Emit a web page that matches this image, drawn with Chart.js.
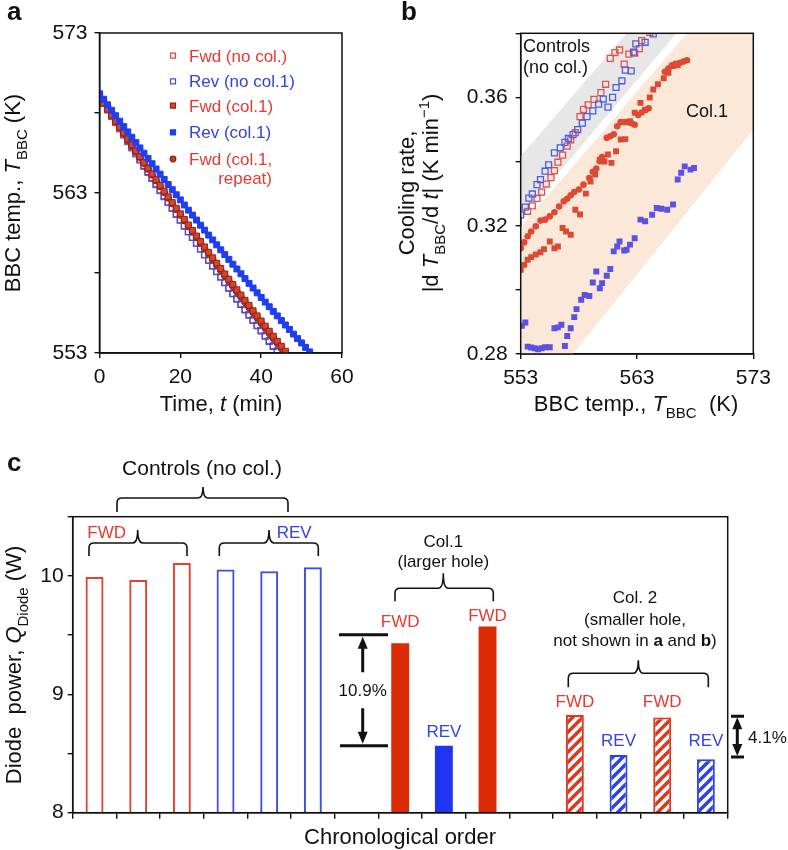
<!DOCTYPE html>
<html>
<head>
<meta charset="utf-8">
<script src="https://cdn.jsdelivr.net/npm/chart.js@4.4.1/dist/chart.umd.min.js"></script>
<style>
  body { margin: 0; background: #fff; }
  #wrap { position: relative; width: 788px; height: 850px; overflow: hidden; }
  canvas { position: absolute; left: 0; top: 0; }
</style>
</head>
<body>
<div id="wrap">
  <canvas id="chartA" width="788" height="850"></canvas>
  <canvas id="chartB" width="788" height="850"></canvas>
  <canvas id="chartC" width="788" height="850"></canvas>
</div>
<script>
// ---------- panel a : BBC temperature vs time ----------
const timeMin = [0,1,2,3,4,5,6,7,8,9,10,11,12,13,14,15,16,17,18,19,20,21,22,23,24,25,26,27,28,29,30,31,32,33,34,35,36,37,38,39,40,41,42,43,44,45,46,47,48,49,50,51,52];
const tempFwdNoCol = [569.00,568.60,568.19,567.79,567.40,567.00,566.61,566.21,565.82,565.44,565.05,564.67,564.29,563.91,563.53,563.15,562.78,562.41,562.04,561.67,561.30,560.94,560.58,560.22,559.86,559.51,559.15,558.80,558.45,558.10,557.76,557.41,557.07,556.73,556.40,556.06,555.73,555.40,555.07,554.74,554.42,554.09,553.77,553.45,553.14];
const tempRevNoCol = [569.10,568.69,568.28,567.88,567.48,567.07,566.68,566.28,565.89,565.50,565.11,564.72,564.33,563.95,563.57,563.19,562.81,562.43,562.06,561.69,561.32,560.95,560.59,560.23,559.86,559.51,559.15,558.80,558.44,558.09,557.75,557.40,557.06,556.71,556.37,556.04,555.70,555.37,555.04,554.71,554.38,554.06,553.73,553.41,553.09];
const tempFwdCol1 = [569.00,568.62,568.24,567.87,567.49,567.12,566.75,566.38,566.01,565.64,565.28,564.91,564.55,564.19,563.83,563.47,563.11,562.76,562.40,562.05,561.70,561.35,561.00,560.66,560.31,559.97,559.63,559.29,558.95,558.61,558.28,557.94,557.61,557.28,556.95,556.62,556.29,555.97,555.64,555.32,555.00,554.68,554.36,554.05,553.73,553.42,553.11];
const tempRevCol1 = [569.20,568.86,568.51,568.17,567.83,567.49,567.15,566.82,566.48,566.15,565.82,565.49,565.16,564.83,564.50,564.18,563.85,563.53,563.21,562.89,562.57,562.25,561.93,561.62,561.31,560.99,560.68,560.37,560.07,559.76,559.45,559.15,558.85,558.55,558.25,557.95,557.65,557.35,557.06,556.76,556.47,556.18,555.89,555.60,555.32,555.03,554.75,554.47,554.18,553.90,553.63,553.35,553.07];
const tempFwdCol1Rep = [569.00,568.62,568.23,567.85,567.47,567.10,566.72,566.34,565.97,565.60,565.23,564.86,564.50,564.13,563.77,563.41,563.04,562.69,562.33,561.97,561.62,561.27,560.92,560.57,560.22,559.88,559.53,559.19,558.85,558.51,558.17,557.83,557.50,557.17,556.83,556.51,556.18,555.85,555.53,555.20,554.88,554.56,554.24,553.92,553.61,553.30];

// ---------- panel b : cooling rate vs BBC temperature ----------
const ctrlFwdT    = [553.6,554.0,554.4,554.8,555.2,555.6,555.9,556.2,556.6,557.0,557.3,557.7,558.1,558.4,558.8,559.3,559.9,560.3,560.7,561.1,561.5,561.9,562.3,562.8,563.2,563.4,564.1];
const ctrlFwdRate = [0.3245,0.3262,0.3285,0.3305,0.3330,0.3350,0.3372,0.3398,0.3420,0.3448,0.3468,0.3490,0.3540,0.3563,0.3577,0.3594,0.3615,0.3641,0.3722,0.3740,0.3748,0.3704,0.3735,0.3738,0.3752,0.3777,0.3803];
const ctrlRevT    = [553.0,553.4,553.7,554.0,554.4,554.7,555.1,555.4,555.9,556.4,556.8,557.1,557.5,557.9,558.3,558.7,559.2,559.7,560.1,560.5,560.9,561.2,561.7,562.0,562.5,562.7,562.9,563.7,564.4];
const ctrlRevRate = [0.3234,0.3258,0.3286,0.3299,0.3328,0.3344,0.3370,0.3390,0.3427,0.3443,0.3460,0.3472,0.3484,0.3500,0.3520,0.3540,0.3558,0.3579,0.3595,0.3570,0.3600,0.3631,0.3652,0.3685,0.3683,0.3741,0.3767,0.3772,0.3798];
const col1FwdT    = [553.0,553.3,553.6,553.9,554.3,554.7,555.0,555.5,555.9,556.2,556.6,556.9,557.3,557.7,558.1,558.6,559.0,559.4,559.8,560.2,560.5,560.8,561.2,561.6,562.0,562.4,562.8,563.3,563.7,564.1,564.4,564.8,565.3,565.7,566.1,566.5];
const col1FwdRate = [0.3063,0.3078,0.3094,0.3102,0.3110,0.3117,0.3127,0.3151,0.3130,0.3135,0.3193,0.3182,0.3172,0.3250,0.3235,0.3300,0.3338,0.3360,0.3406,0.3400,0.3422,0.3396,0.3432,0.3469,0.3470,0.3526,0.3552,0.3583,0.3562,0.3600,0.3625,0.3641,0.3660,0.3677,0.3698,0.3700];
const col1RevT    = [553.1,553.4,553.6,553.9,554.2,554.5,554.8,555.1,555.5,555.9,556.2,556.5,556.8,557.0,557.3,557.6,557.8,558.2,558.5,558.9,559.2,559.5,559.8,560.0,560.4,560.7,561.0,561.3,561.5,561.9,562.1,562.4,562.8,563.3,563.7,564.3,564.7,565.1,565.6,566.1,566.5,566.8,567.1,567.6,567.9];
const col1RevRate = [0.2888,0.2898,0.2823,0.2820,0.2818,0.2815,0.2818,0.2821,0.2821,0.2880,0.2883,0.2891,0.2825,0.2856,0.2880,0.2915,0.2940,0.2969,0.2984,0.2981,0.3023,0.3057,0.3005,0.3021,0.3044,0.3065,0.3120,0.3135,0.3151,0.3123,0.3125,0.3141,0.3161,0.3219,0.3214,0.3234,0.3255,0.3253,0.3250,0.3266,0.3344,0.3365,0.3385,0.3375,0.3380];
const col1RepT    = [553.0,553.3,553.6,553.9,554.3,554.7,555.1,555.5,555.9,556.3,556.7,557.0,557.3,557.6,558.0,558.4,558.9,559.2,559.5,559.8,560.0,560.4,560.7,561.0,561.3,561.6,561.9,562.2,562.5,562.8,563.1,563.4,563.7,564.0,565.4,565.7,566.0,566.3,566.7,567.0,567.3];
const col1RepRate = [0.3130,0.3148,0.3167,0.3182,0.3198,0.3216,0.3219,0.3229,0.3242,0.3260,0.3276,0.3284,0.3295,0.3305,0.3313,0.3328,0.3349,0.3368,0.3378,0.3401,0.3414,0.3474,0.3479,0.3485,0.3510,0.3523,0.3523,0.3523,0.3520,0.3515,0.3545,0.3553,0.3560,0.3566,0.3680,0.3690,0.3700,0.3705,0.3708,0.3712,0.3716];
// shaded guide bands (polygon corners, data units)
const bandCtrlT    = [553, 562.1, 566.4, 553];
const bandCtrlRate = [0.3417, 0.38, 0.38, 0.3225];
const bandCol1T    = [553, 557.5, 573, 573, 567.3, 553];
const bandCol1Rate = [0.28, 0.28, 0.35, 0.38, 0.38, 0.3195];

// ---------- panel c : diode power, chronological order ----------
const runLabels = ['FWD','FWD','FWD','REV','REV','REV','','FWD','REV','FWD','','FWD','REV','FWD','REV'];
const powerW    = [9.99, 9.965, 10.108, 10.054, 10.04, 10.074, null, 9.432, 8.566, 9.572, null, 8.826, 8.488, 8.803, 8.451];
const runStyle  = ['open','open','open','open','open','open','','solid','solid','solid','','hatch','hatch','hatch','hatch'];

const FONT = '"Liberation Sans", Arial, Helvetica, sans-serif';
const RED = '#e63a2e', BLUE = '#2f44e0';

function pts(xs, ys) { return xs.map((x, i) => ({ x: x, y: ys[i] })); }

function fontOf(p, size) {
  const s = (p.sub || p.sup) ? Math.round(size * 0.68) : size;
  return (p.i ? 'italic ' : '') + (p.b ? 'bold ' : '') + s + 'px ' + FONT;
}
// rich text: parts = [{t, i, b, sub, sup, c}], (x,y) = baseline anchor
function drawRich(ctx, parts, x, y, size, opts) {
  opts = opts || {};
  parts = parts.map(p => typeof p === 'string' ? { t: p } : p);
  ctx.save();
  ctx.translate(x, y);
  if (opts.rotate) ctx.rotate(-Math.PI / 2);
  let w = 0;
  parts.forEach(p => { ctx.font = fontOf(p, size); w += ctx.measureText(p.t).width; });
  let cx = opts.align === 'left' ? 0 : opts.align === 'right' ? -w : -w / 2;
  ctx.textAlign = 'left';
  ctx.textBaseline = 'alphabetic';
  parts.forEach(p => {
    ctx.font = fontOf(p, size);
    ctx.fillStyle = p.c || opts.color || '#111';
    const dy = p.sub ? size * 0.3 : p.sup ? -size * 0.42 : 0;
    ctx.fillText(p.t, cx, dy);
    cx += ctx.measureText(p.t).width;
  });
  ctx.restore();
}

function brace(ctx, x1, x2, y, tip, leg, xm) {
  const r = 5;
  ctx.beginPath();
  ctx.moveTo(x1, y + leg);
  ctx.lineTo(x1, y + r);
  ctx.quadraticCurveTo(x1, y, x1 + r, y);
  ctx.lineTo(xm - r, y);
  ctx.quadraticCurveTo(xm, y, xm, y - tip);
  ctx.quadraticCurveTo(xm, y, xm + r, y);
  ctx.lineTo(x2 - r, y);
  ctx.quadraticCurveTo(x2, y, x2, y + r);
  ctx.lineTo(x2, y + leg);
  ctx.stroke();
}

function arrowHead(ctx, x, y, dir) { // dir -1 = points up, +1 = points down
  ctx.beginPath();
  ctx.moveTo(x, y);
  ctx.lineTo(x - 5, y - dir * 12);
  ctx.lineTo(x + 5, y - dir * 12);
  ctx.closePath();
  ctx.fill();
}

function hatch(color) {
  const c = document.createElement('canvas');
  c.width = 10; c.height = 10;
  const g = c.getContext('2d');
  g.fillStyle = '#fff';
  g.fillRect(0, 0, 10, 10);
  g.strokeStyle = color;
  g.lineWidth = 3.4;
  g.beginPath();
  g.moveTo(-2, 12); g.lineTo(12, -2);
  g.moveTo(-2, 2); g.lineTo(2, -2);
  g.moveTo(8, 12); g.lineTo(12, 8);
  g.stroke();
  return g.createPattern(c, 'repeat');
}

// axis helpers
function fixWidth(w) {
  return scale => { scale.width = w; scale.paddingTop = 0; scale.paddingBottom = 0; };
}
function fixHeight(h) {
  return scale => { scale.height = h; scale.paddingLeft = 0; scale.paddingRight = 0; };
}
const tickFont = { family: FONT, size: 21 };
const axisGrid = { drawOnChartArea: false, drawTicks: true, tickLength: 5, color: '#111', lineWidth: 1.4 };
const axisBorder = { display: true, color: '#111', width: 1.5 };

const frame = {
  id: 'frame',
  afterDatasetsDraw(chart) {
    const a = chart.chartArea, ctx = chart.ctx;
    ctx.save();
    ctx.strokeStyle = '#111';
    ctx.lineWidth = 1.5;
    ctx.strokeRect(a.left, a.top, a.right - a.left, a.bottom - a.top);
    ctx.restore();
  }
};

const baseOpts = {
  responsive: false,
  animation: false,
  devicePixelRatio: 1,
  events: [],
  plugins: { legend: { display: false }, tooltip: { enabled: false } }
};

// ===== panel a =====
const legendA = [
  { label: 'Fwd (no col.)', color: RED,  shape: 'rect', fill: '#fff',    stroke: '#e8443a' },
  { label: 'Rev (no col.1)', color: BLUE, shape: 'rect', fill: '#fff',   stroke: '#3d50e6' },
  { label: 'Fwd (col.1)',  color: RED,  shape: 'rect', fill: '#d8432c', stroke: '#8f2414' },
  { label: 'Rev (col.1)',  color: BLUE, shape: 'rect', fill: '#1f3ef2', stroke: '#1f3ef2' },
  { label: 'Fwd (col.1,',  color: RED,  shape: 'circle', fill: '#cf3a24', stroke: '#7f2414' }
];

new Chart(document.getElementById('chartA'), {
  type: 'scatter',
  data: {
    datasets: [
      { data: pts(timeMin, tempFwdNoCol), pointStyle: 'rect', pointRadius: 4.2, backgroundColor: 'rgba(255,255,255,0)', borderColor: '#e8443a', borderWidth: 1.3, order: 5 },
      { data: pts(timeMin, tempRevNoCol), pointStyle: 'rect', pointRadius: 4.2, backgroundColor: 'rgba(255,255,255,0)', borderColor: '#3d50e6', borderWidth: 1.3, order: 4 },
      { data: pts(timeMin, tempFwdCol1Rep), pointStyle: 'circle', pointRadius: 3.3, backgroundColor: '#cf3a24', borderColor: '#7f2414', borderWidth: 1, order: 3 },
      { data: pts(timeMin, tempFwdCol1), pointStyle: 'rect', pointRadius: 4.2, backgroundColor: '#d8432c', borderColor: '#8f2414', borderWidth: 1, order: 2 },
      { data: pts(timeMin, tempRevCol1), pointStyle: 'rect', pointRadius: 4.2, backgroundColor: '#1f3ef2', borderColor: '#1f3ef2', borderWidth: 1, order: 1 }
    ]
  },
  options: Object.assign({}, baseOpts, {
    layout: { padding: { left: 0, top: 33, right: 446, bottom: 430 } },
    scales: {
      x: {
        type: 'linear', min: 0, max: 60,
        ticks: { stepSize: 20, font: tickFont, color: '#111', padding: 7, maxRotation: 0 },
        grid: axisGrid, border: axisBorder,
        afterFit: fixHeight(67)
      },
      y: {
        type: 'linear', min: 553, max: 573,
        ticks: { stepSize: 5, font: tickFont, color: '#111', padding: 7,
          callback: v => ((v - 553) % 10 === 0 ? v : '') },
        grid: axisGrid, border: axisBorder,
        afterFit: fixWidth(99.5)
      }
    }
  }),
  plugins: [frame, {
    id: 'textA',
    afterDraw(chart) {
      const ctx = chart.ctx;
      const rows = [61.7, 87.3, 111.7, 138.3, 165];
      legendA.forEach((e, i) => {
        const y = rows[i] - 6;
        ctx.save();
        ctx.fillStyle = e.fill;
        ctx.strokeStyle = e.stroke;
        ctx.lineWidth = 1.2;
        ctx.beginPath();
        if (e.shape === 'circle') ctx.arc(173, y, 2.8, 0, Math.PI * 2);
        else ctx.rect(170.5, y - 2.5, 5, 5);
        ctx.fill();
        ctx.stroke();
        ctx.restore();
        drawRich(ctx, [{ t: e.label, c: e.color }], 189, rows[i], 17, { align: 'left' });
      });
      drawRich(ctx, [{ t: 'repeat)', c: RED }], 272, 184, 17, { align: 'right' });
      drawRich(ctx, [{ t: 'a', b: true }], 7, 20, 26, { align: 'left' });
      drawRich(ctx, ['Time, ', { t: 't', i: true }, ' (min)'], 221, 411, 22);
      drawRich(ctx, ['BBC temp., ', { t: 'T', i: true }, { t: 'BBC', sub: true }, ' (K)'], 20, 193, 22, { rotate: true });
    }
  }]
});

// ===== panel b =====
const bands = {
  id: 'bands',
  beforeDatasetsDraw(chart) {
    const ctx = chart.ctx, xs = chart.scales.x, ys = chart.scales.y, a = chart.chartArea;
    const poly = (T, R, color) => {
      ctx.beginPath();
      T.forEach((t, i) => {
        const px = xs.getPixelForValue(t), py = ys.getPixelForValue(R[i]);
        if (i === 0) ctx.moveTo(px, py); else ctx.lineTo(px, py);
      });
      ctx.closePath();
      ctx.fillStyle = color;
      ctx.fill();
    };
    ctx.save();
    ctx.beginPath();
    ctx.rect(a.left, a.top, a.right - a.left, a.bottom - a.top);
    ctx.clip();
    poly(bandCol1T, bandCol1Rate, '#fbe8d8');
    poly(bandCtrlT, bandCtrlRate, '#e7e7e8');
    ctx.restore();
  }
};

new Chart(document.getElementById('chartB'), {
  type: 'scatter',
  data: {
    datasets: [
      { data: pts(ctrlFwdT, ctrlFwdRate), pointStyle: 'rect', pointRadius: 4.2, backgroundColor: 'rgba(255,255,255,0)', borderColor: '#e4534b', borderWidth: 1.3, order: 2 },
      { data: pts(ctrlRevT, ctrlRevRate), pointStyle: 'rect', pointRadius: 4.2, backgroundColor: 'rgba(255,255,255,0)', borderColor: '#4d5ce2', borderWidth: 1.3, order: 1 },
      { data: pts(col1FwdT, col1FwdRate), pointStyle: 'rect', pointRadius: 4.2, backgroundColor: '#dc4a33', borderWidth: 0, order: 4 },
      { data: pts(col1RepT, col1RepRate), pointStyle: 'circle', pointRadius: 3.3, backgroundColor: '#dc4a33', borderWidth: 0, order: 3 },
      { data: pts(col1RevT, col1RevRate), pointStyle: 'rect', pointRadius: 4.2, backgroundColor: '#5a52e2', borderWidth: 0, order: 5 }
    ]
  },
  options: Object.assign({}, baseOpts, {
    layout: { padding: { left: 395, top: 33.3, right: 34.7, bottom: 430 } },
    scales: {
      x: {
        type: 'linear', min: 553, max: 573,
        ticks: { stepSize: 10, font: tickFont, color: '#111', padding: 7, maxRotation: 0 },
        grid: axisGrid, border: axisBorder,
        afterFit: fixHeight(66)
      },
      y: {
        type: 'linear', min: 0.28, max: 0.38,
        ticks: { stepSize: 0.02, font: tickFont, color: '#111', padding: 8,
          callback: v => ([28, 32, 36].includes(Math.round(v * 100)) ? v.toFixed(2) : '') },
        grid: axisGrid, border: axisBorder,
        afterFit: fixWidth(125.7)
      }
    }
  }),
  plugins: [bands, frame, {
    id: 'textB',
    afterDraw(chart) {
      const ctx = chart.ctx;
      drawRich(ctx, [{ t: 'b', b: true }], 401, 20, 26, { align: 'left' });
      drawRich(ctx, ['Controls'], 523, 51.5, 18, { align: 'left' });
      drawRich(ctx, ['(no col.)'], 523, 73, 18, { align: 'left' });
      drawRich(ctx, ['Col.1'], 686, 116.5, 18, { align: 'left' });
      drawRich(ctx, ['BBC temp., ', { t: 'T', i: true }, { t: 'BBC', sub: true }, '  (K)'], 636, 411, 22);
      drawRich(ctx, ['Cooling rate,'], 414, 193, 22, { rotate: true });
      drawRich(ctx, ['|d ', { t: 'T', i: true }, { t: 'BBC', sub: true }, '/d ', { t: 't', i: true }, '| (K min', { t: '\u22121', sup: true }, ')'], 438, 193, 22, { rotate: true });
    }
  }]
});

// ===== panel c =====
const fillFor = { open: 'rgba(255,255,255,0)', solid: null, hatch: null };
const barColor = runLabels.map(l => (l === 'REV' ? 'rev' : 'fwd'));
const barBg = runStyle.map((s, i) => {
  const isRev = barColor[i] === 'rev';
  if (s === 'solid') return isRev ? '#1f35f0' : '#dc2c06';
  if (s === 'hatch') return hatch(isRev ? '#2c43ea' : '#e2351c');
  return fillFor.open;
});
const barBorder = runStyle.map((s, i) => {
  const isRev = barColor[i] === 'rev';
  if (s === 'solid') return isRev ? '#1f35f0' : '#dc2c06';
  if (s === 'hatch') return isRev ? '#2c43ea' : '#e2351c';
  return isRev ? '#3a4ee8' : '#e8402e';
});
const barLabelBase = [null, null, null, null, null, null, null, 627, 737, 621, null, 707, 746, 707, 746];

new Chart(document.getElementById('chartC'), {
  type: 'bar',
  data: {
    labels: runLabels,
    datasets: [{
      data: powerW,
      backgroundColor: barBg,
      borderColor: barBorder,
      borderWidth: runStyle.map(s => (s === 'solid' ? 0 : 2)),
      borderSkipped: 'start',
      barPercentage: 0.41,
      categoryPercentage: 1
    }]
  },
  options: Object.assign({}, baseOpts, {
    layout: { padding: { left: 0, top: 516.7, right: 60.3, bottom: 0 } },
    scales: {
      x: {
        ticks: { display: true, callback: () => '', font: tickFont, padding: 0 },
        grid: Object.assign({}, axisGrid, { offset: true, tickLength: 6 }),
        border: axisBorder,
        afterFit: fixHeight(37.3)
      },
      y: {
        min: 8, max: 10.5,
        ticks: { stepSize: 0.5, font: tickFont, color: '#111', padding: 4,
          callback: v => (Number.isInteger(v) ? v : '') },
        grid: axisGrid, border: axisBorder,
        afterFit: fixWidth(72.7)
      }
    }
  }),
  plugins: [frame, {
    id: 'textC',
    afterDraw(chart) {
      const ctx = chart.ctx, xs = chart.scales.x, ys = chart.scales.y;
      ctx.save();
      ctx.strokeStyle = '#111';
      ctx.fillStyle = '#111';
      ctx.lineWidth = 1.6;
      brace(ctx, 117, 288, 498, 11, 14, 203);
      brace(ctx, 89, 187, 543, 13, 13, 137.7);
      brace(ctx, 219.3, 318.3, 543, 13, 13, 269);
      brace(ctx, 395, 493.3, 588.3, 15, 13, 443.3);
      brace(ctx, 568.3, 708.3, 673.3, 13, 14, 638.3);

      // 10.9 % bracket between col.1 FWD mean and REV
      const yTop = ys.getPixelForValue((powerW[7] + powerW[9]) / 2);
      const yBot = ys.getPixelForValue(powerW[8]);
      const yMid = (yTop + yBot) / 2;
      ctx.lineWidth = 3;
      ctx.beginPath();
      ctx.moveTo(339, yTop); ctx.lineTo(388, yTop);
      ctx.moveTo(340, yBot); ctx.lineTo(388, yBot);
      ctx.moveTo(362.7, yTop + 10); ctx.lineTo(362.7, yMid - 18);
      ctx.moveTo(362.7, yMid + 18); ctx.lineTo(362.7, yBot - 10);
      ctx.stroke();
      arrowHead(ctx, 362.7, yTop + 2, -1);
      arrowHead(ctx, 362.7, yBot - 2, 1);

      // 4.1 % bracket between col.2 FWD mean and REV mean
      const y2Top = ys.getPixelForValue((powerW[11] + powerW[13]) / 2);
      const y2Bot = ys.getPixelForValue((powerW[12] + powerW[14]) / 2);
      ctx.beginPath();
      ctx.moveTo(731, y2Top); ctx.lineTo(744, y2Top);
      ctx.moveTo(731, y2Bot); ctx.lineTo(744, y2Bot);
      ctx.moveTo(737.3, y2Top + 8); ctx.lineTo(737.3, y2Bot - 8);
      ctx.stroke();
      arrowHead(ctx, 737.3, y2Top + 1, -1);
      arrowHead(ctx, 737.3, y2Bot - 1, 1);
      ctx.restore();

      drawRich(ctx, ['10.9%'], 362.7, yMid + 6, 17);
      drawRich(ctx, ['4.1%'], 748, (y2Top + y2Bot) / 2 + 6, 17, { align: 'left' });

      // labels above col.1 / col.2 bars
      runLabels.forEach((l, i) => {
        if (barLabelBase[i] == null) return;
        drawRich(ctx, [{ t: l, c: l === 'REV' ? BLUE : RED }], xs.getPixelForValue(i), barLabelBase[i], 17);
      });
      drawRich(ctx, [{ t: 'FWD', c: RED }], 87.3, 537.5, 17, { align: 'left' });
      drawRich(ctx, [{ t: 'REV', c: BLUE }], 276.7, 537.5, 17, { align: 'left' });

      drawRich(ctx, ['Controls (no col.)'], 202, 475, 21);
      drawRich(ctx, ['Col.1'], 443.3, 546.7, 17);
      drawRich(ctx, ['(larger hole)'], 443.3, 566.7, 17);
      drawRich(ctx, ['Col. 2'], 635, 603.3, 17);
      drawRich(ctx, ['(smaller hole,'], 635, 625, 17);
      drawRich(ctx, ['not shown in ', { t: 'a', b: true }, ' and ', { t: 'b', b: true }, ')'], 635, 645.5, 17);

      drawRich(ctx, [{ t: 'c', b: true }], 7, 471, 26, { align: 'left' });
      drawRich(ctx, ['Chronological order'], 400, 843.5, 22);
      drawRich(ctx, ['Diode  power, ', { t: 'Q', i: true }, { t: 'Diode', sub: true }, ' (W)'], 21, 665, 22, { rotate: true });
    }
  }]
});
</script>
</body>
</html>
